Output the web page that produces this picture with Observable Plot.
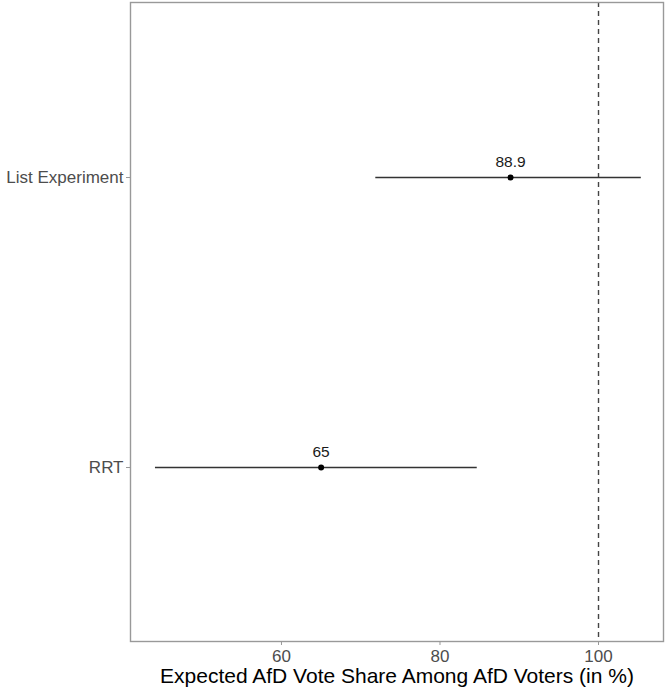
<!DOCTYPE html>
<html>
<head>
<meta charset="utf-8">
<script src="https://cdn.jsdelivr.net/npm/d3@7"></script>
<script src="https://cdn.jsdelivr.net/npm/@observablehq/plot@0.6"></script>
<style>
  html, body { margin: 0; padding: 0; background: #fff; }
  #chart { width: 665px; height: 690px; }
</style>
</head>
<body>
<div id="chart"></div>
<script>
const methods = ["List Experiment", "RRT"];
const estimates = [88.9, 65];
const lower = [71.9, 44.1];
const upper = [105.4, 84.7];
const labels = ["88.9", "65"];
const xTicks = [60, 80, 100];
const reference = [100];
const xTitle = "Expected AfD Vote Share Among AfD Voters (in %)";

const data = methods.map((m, i) => ({method: m, est: estimates[i], lo: lower[i], hi: upper[i], label: labels[i]}));

const chart = Plot.plot({
  width: 665,
  height: 690,
  marginLeft: 130,
  marginRight: 2,
  marginTop: 2,
  marginBottom: 49,
  style: {fontFamily: "'Liberation Sans', Arial, sans-serif", background: "#fff"},
  x: {domain: [40.95, 108.2]},
  y: {type: "point", domain: methods, padding: 0.6},
  marks: [
    Plot.ruleX(reference, {stroke: "#444", strokeWidth: 1.4, strokeDasharray: "5,4"}),
    Plot.ruleY(data, {y: "method", x1: "lo", x2: "hi", stroke: "#333", strokeWidth: 1.7}),
    Plot.dot(data, {x: "est", y: "method", r: 3, fill: "#000", stroke: "none"}),
    Plot.text(data, {x: "est", y: "method", text: "label", dy: -15, fontSize: 15.5, fill: "#1a1a1a"}),
    Plot.frame({stroke: "#999", strokeWidth: 1.4}),
    Plot.axisX({ticks: xTicks, tickSize: 4, tickPadding: 4, fontSize: 17, color: "#4d4d4d", stroke: "#999", label: null}),
    Plot.axisY({tickSize: 4, tickPadding: 3, fontSize: 17, color: "#4d4d4d", stroke: "#999", label: null}),
    Plot.text([xTitle], {frameAnchor: "bottom", lineAnchor: "top", dy: 27, fontSize: 21, fill: "#000"})
  ]
});
document.getElementById("chart").appendChild(chart);
</script>
</body>
</html>
